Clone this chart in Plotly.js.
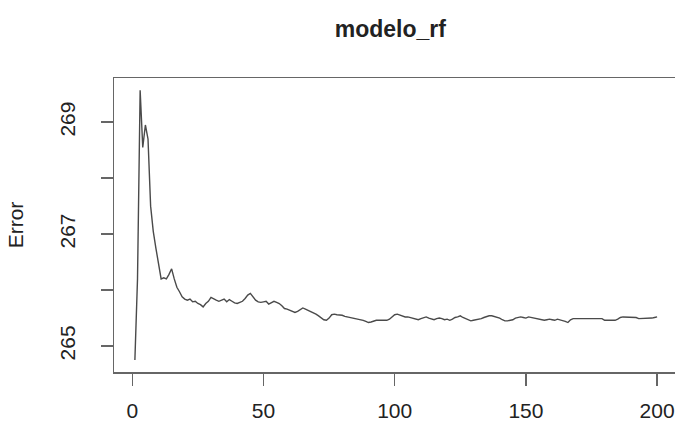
<!DOCTYPE html>
<html>
<head>
<meta charset="utf-8">
<script src="https://cdn.plot.ly/plotly-3.0.1.min.js"></script>
<style>
html, body { margin: 0; padding: 0; overflow: hidden; background: #fff; }
#chart { width: 690px; height: 423px; }
</style>
</head>
<body>
<div id="chart"></div>
<script>
// Number of trees (x) and OOB error (y)
const trees = [];
for (let i = 1; i <= 200; i++) trees.push(i);

const errorValues = [
  264.75, 266.20, 269.57, 268.55, 268.95, 268.70, 267.50, 267.05, 266.75, 266.45,
  266.20, 266.22, 266.20, 266.28, 266.38, 266.20, 266.05, 265.97, 265.88, 265.84,
  265.82, 265.84, 265.79, 265.80, 265.76, 265.74, 265.70, 265.76, 265.80, 265.87,
  265.84, 265.82, 265.80, 265.82, 265.84, 265.79, 265.83, 265.80, 265.77, 265.76,
  265.78, 265.80, 265.85, 265.91, 265.94, 265.88, 265.82, 265.79, 265.78, 265.79,
  265.80, 265.75, 265.78, 265.80, 265.78, 265.76, 265.72, 265.67, 265.66, 265.64,
  265.62, 265.60, 265.62, 265.65, 265.68, 265.66, 265.64, 265.62, 265.60, 265.57,
  265.54, 265.50, 265.47, 265.46, 265.50, 265.56, 265.57, 265.56, 265.56, 265.55,
  265.53, 265.52, 265.52, 265.51, 265.50, 265.49, 265.48, 265.46, 265.44, 265.42,
  265.43, 265.45, 265.46, 265.46, 265.46, 265.45, 265.46, 265.48, 265.52, 265.56,
  265.57, 265.55, 265.53, 265.52, 265.52, 265.51, 265.50, 265.48, 265.47, 265.49,
  265.50, 265.52, 265.50, 265.48, 265.47, 265.49, 265.50, 265.49, 265.47, 265.48,
  265.46, 265.48, 265.51, 265.52, 265.54, 265.51, 265.49, 265.47, 265.45, 265.46,
  265.47, 265.47, 265.49, 265.51, 265.53, 265.54, 265.54, 265.53, 265.52, 265.50,
  265.47, 265.45, 265.45, 265.46, 265.47, 265.50, 265.51, 265.52, 265.51, 265.50,
  265.52, 265.51, 265.50, 265.49, 265.48, 265.47, 265.46, 265.47, 265.48, 265.47,
  265.46, 265.48, 265.47, 265.46, 265.44, 265.42, 265.47, 265.49, 265.49, 265.49,
  265.49, 265.49, 265.49, 265.49, 265.49, 265.49, 265.49, 265.49, 265.49, 265.46,
  265.46, 265.46, 265.46, 265.46, 265.48, 265.51, 265.52, 265.52, 265.51, 265.51,
  265.52, 265.51, 265.49, 265.49, 265.49, 265.49, 265.49, 265.50, 265.51, 265.52
];

const xTickVals = [0, 50, 100, 150, 200];
const yTickVals = [265, 266, 267, 268, 269];
const yTickText = ['265', '', '267', '', '269'];

const fontFam = 'Liberation Sans, Arial, sans-serif';
const axisCol = '#666666';
const textCol = '#222222';

const trace = {
  x: trees,
  y: errorValues,
  type: 'scatter',
  mode: 'lines',
  line: { color: '#4a4a4a', width: 1.4 },
  hoverinfo: 'skip'
};

const layout = {
  width: 690,
  height: 423,
  margin: { l: 114, r: 12, t: 78, b: 51 },
  paper_bgcolor: '#ffffff',
  plot_bgcolor: '#ffffff',
  showlegend: false,
  title: {
    text: '<b>modelo_rf</b>',
    font: { family: fontFam, size: 23, color: textCol },
    x: 0.49, xref: 'paper', xanchor: 'center',
    y: 1 - 29 / 423, yref: 'container', yanchor: 'middle'
  },
  xaxis: {
    range: [-6.96, 207.96],
    tickvals: xTickVals,
    ticks: 'outside', ticklen: 12, tickwidth: 1.5, tickcolor: axisCol,
    ticklabelstandoff: 7,
    showline: true, mirror: true, linecolor: axisCol, linewidth: 1.5,
    showgrid: false, zeroline: false,
    tickfont: { family: fontFam, size: 21, color: textCol }
  },
  yaxis: {
    range: [264.536, 269.79],
    tickvals: yTickVals,
    ticktext: yTickText,
    tickangle: -90,
    ticks: 'outside', ticklen: 12, tickwidth: 1.5, tickcolor: axisCol,
    ticklabelstandoff: 17,
    showline: true, mirror: true, linecolor: axisCol, linewidth: 1.5,
    showgrid: false, zeroline: false,
    tickfont: { family: fontFam, size: 21, color: textCol },
    title: { text: 'Error', standoff: 26, font: { family: fontFam, size: 21, color: textCol } }
  }
};

Plotly.newPlot('chart', [trace], layout, { staticPlot: true, displayModeBar: false });
</script>
</body>
</html>
